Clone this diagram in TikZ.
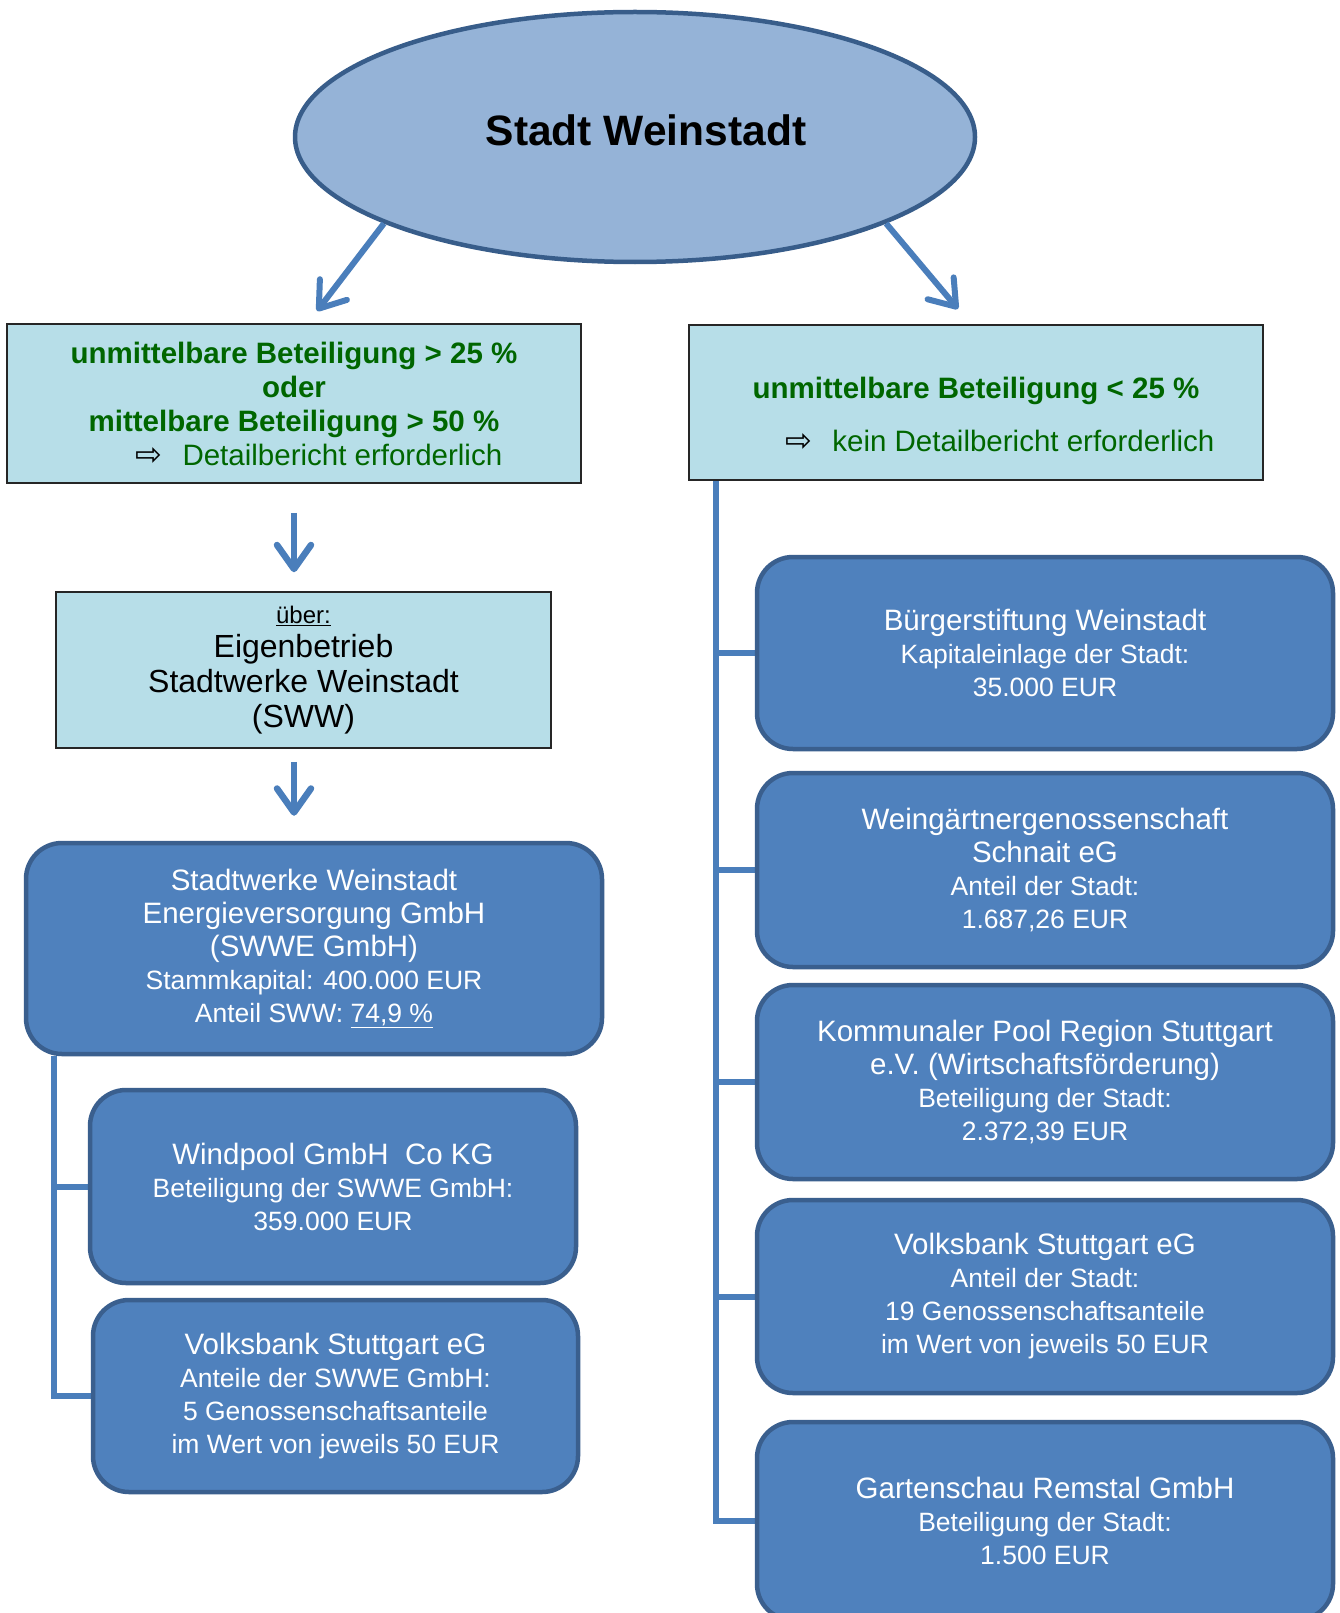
\documentclass[tikz,border=0pt]{standalone}
\usepackage{fontspec}
\setmainfont{Liberation Sans}
\newfontfamily\symfont{DejaVu Sans}
\usetikzlibrary{arrows.meta,shapes.geometric,calc,backgrounds}
\definecolor{ellfill}{HTML}{95B3D7}
\definecolor{ellline}{HTML}{385D8A}
\definecolor{lightbox}{HTML}{B7DEE8}
\definecolor{darkfill}{HTML}{4F81BD}
\definecolor{darkline}{HTML}{3A5F8E}
\definecolor{connblue}{HTML}{4A7EBB}
\definecolor{grn}{HTML}{006600}
\newcommand\ttlf{\fontsize{29.5}{33}\selectfont}
\newcommand\smlf{\fontsize{26.5}{31}\selectfont}
\newcommand\arrsym{{\color{black}\mdseries\symfont\fontsize{32}{34}\selectfont ⇨}}
\begin{document}
\begin{tikzpicture}[x=1pt,y=-1pt,
  lightnode/.style={draw=black!85, line width=1.5pt, fill=lightbox, rectangle, inner sep=0pt, align=center},
  darknode/.style={draw=darkline, line width=4.5pt, fill=darkfill, rectangle, rounded corners=36pt, inner sep=0pt, align=center, text=white, font=\ttlf},
  arr/.style={draw=connblue, line width=6.5pt, -{Straight Barb[length=24pt,width=34pt,round]}},
  connline/.style={draw=connblue, line width=6pt},
]
\useasboundingbox (0,0) rectangle (1340,1613);
\clip (0,0) rectangle (1340,1613);

% ---- nodes ----
\node[ellipse, draw=ellline, line width=4.5pt, fill=ellfill, minimum width=680pt, minimum height=250pt, inner sep=0pt,
      font=\bfseries\fontsize{42.5}{50}\selectfont] (stadt) at (635,137)
      {\hspace*{22pt}Stadt Weinstadt\rule[-14pt]{0pt}{14pt}};

\node[lightnode, minimum width=574pt, minimum height=159pt, text=grn, font=\bfseries\fontsize{29.5}{34}\selectfont] (lbox) at (294,403.5)
  {unmittelbare Beteiligung > 25 \%\\ oder\\ mittelbare Beteiligung > 50 \%\\
   \hspace*{50pt}\arrsym\hspace{20pt}{\mdseries Detailbericht erforderlich}};

\node[lightnode, minimum width=574pt, minimum height=155pt, text=grn, font=\bfseries\fontsize{29.5}{34}\selectfont] (rbox) at (976,402.5)
  {\rule{0pt}{46pt}unmittelbare Beteiligung < 25 \%\\[19pt]
   \hspace*{48pt}\arrsym\hspace{20pt}{\mdseries kein Detailbericht erforderlich}};

\node[lightnode, minimum width=495pt, minimum height=156pt, text=black, font=\fontsize{32}{35}\selectfont] (uber) at (303.5,670)
  {{\fontsize{24}{28}\selectfont\underline{über:}}\\[-1pt] Eigenbetrieb\\ Stadtwerke Weinstadt\\ (SWW)};

\node[darknode, minimum width=576pt, minimum height=211pt] (swwe) at (314,948.5)
  {Stadtwerke Weinstadt\\ Energieversorgung GmbH\\ (SWWE GmbH)\\
   \smlf Stammkapital: 400.000 EUR\\ \smlf Anteil SWW: \underline{74,9 \%}};

\node[darknode, minimum width=486pt, minimum height=193pt] (wind) at (333,1186.5)
  {Windpool GmbH\ \ Co KG\\ \smlf Beteiligung der SWWE GmbH:\\ \smlf 359.000 EUR};

\node[darknode, minimum width=485pt, minimum height=192pt] (vbl) at (335.5,1396)
  {Volksbank Stuttgart eG\\ \smlf Anteile der SWWE GmbH:\\ \smlf 5 Genossenschaftsanteile\\ \smlf im Wert von jeweils 50 EUR};

\node[darknode, minimum width=576pt, minimum height=192pt] (buerg) at (1045,653)
  {Bürgerstiftung Weinstadt\\ \smlf Kapitaleinlage der Stadt:\\ \smlf 35.000 EUR};

\node[darknode, minimum width=576pt, minimum height=194pt] (weing) at (1045,870)
  {Weingärtnergenossenschaft\\ Schnait eG\\ \smlf Anteil der Stadt:\\ \smlf 1.687,26 EUR};

\node[darknode, minimum width=576pt, minimum height=194pt] (kommu) at (1045,1082)
  {Kommunaler Pool Region Stuttgart\\ e.V. (Wirtschaftsförderung)\\ \smlf Beteiligung der Stadt:\\ \smlf 2.372,39 EUR};

\node[darknode, minimum width=576pt, minimum height=193pt] (vbr) at (1045,1296.5)
  {Volksbank Stuttgart eG\\ \smlf Anteil der Stadt:\\ \smlf 19 Genossenschaftsanteile\\ \smlf im Wert von jeweils 50 EUR};

\node[darknode, minimum width=576pt, minimum height=198pt] (garten) at (1045,1521)
  {Gartenschau Remstal GmbH\\ \smlf Beteiligung der Stadt:\\ \smlf 1.500 EUR};

% ---- connectors ----
\coordinate (tipL) at (317,311);
\coordinate (tipR) at (958,309);
\draw[arr, line width=6pt] (stadt.199) -- (tipL);
\draw[arr, line width=6pt] (stadt.341) -- (tipR);
\draw[arr, shorten <=29pt, shorten >=19pt] (lbox.south) -- (lbox.south |- uber.north);
\draw[arr, shorten <=13pt, shorten >=25pt] (lbox.south |- uber.south) -- (lbox.south |- swwe.north);

\begin{scope}[on background layer]
\fill[white] (0,0) rectangle (1340,1613);
\draw[connline] ($(swwe.south west)+(30,0)$) |- (wind.west);
\draw[connline] ($(swwe.south west)+(30,0)$) |- (vbl.west);
\draw[connline] ($(rbox.south west)+(28,0)$) |- (buerg.west);
\draw[connline] ($(rbox.south west)+(28,0)$) |- (weing.west);
\draw[connline] ($(rbox.south west)+(28,0)$) |- (kommu.west);
\draw[connline] ($(rbox.south west)+(28,0)$) |- (vbr.west);
\draw[connline] ($(rbox.south west)+(28,0)$) |- (garten.west);
\end{scope}
\end{tikzpicture}
\end{document}
